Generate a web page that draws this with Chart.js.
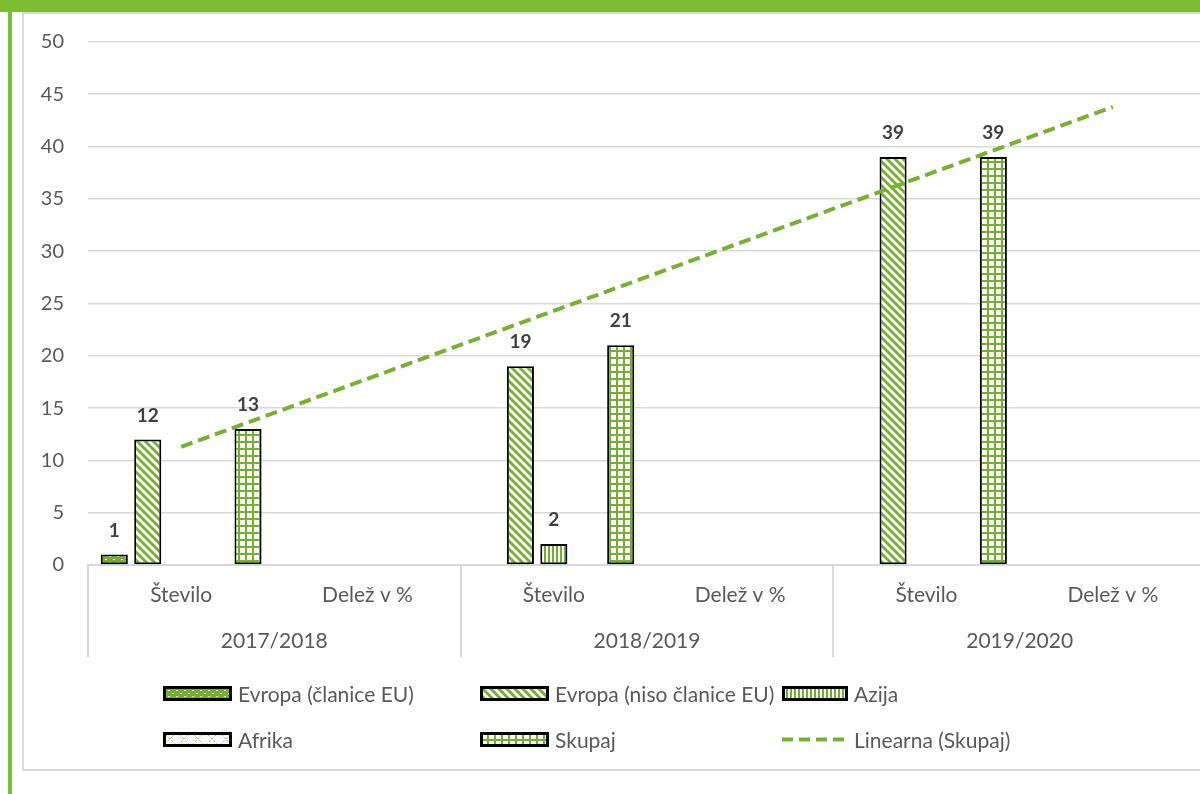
<!DOCTYPE html>
<html>
<head>
<meta charset="utf-8">
<script src="https://cdn.jsdelivr.net/npm/chart.js@4.4.1/dist/chart.umd.min.js"></script>
<style>
  html,body{margin:0;padding:0;width:1200px;height:794px;overflow:hidden;background:#fff;font-family:Lato,"Open Sans",sans-serif;}
  #topbar{position:absolute;left:0;top:0;width:1200px;height:12px;background:#7CBD31;}
  #leftbar{position:absolute;left:8px;top:12px;width:4px;height:782px;background:#7CBD31;}
  #frame{position:absolute;left:22px;top:12px;width:1220px;height:759px;border:2px solid #d9d9d9;box-sizing:border-box;}
  #wrap{position:absolute;left:0;top:0;width:1230px;height:794px;}
  #legend{position:absolute;left:0;top:0;width:1200px;height:794px;pointer-events:none;}
  .li{position:absolute;height:24px;display:flex;align-items:center;color:#595959;font-size:21px;white-space:nowrap;}
  .li canvas{margin-right:6px;}
</style>
</head>
<body>
<div id="topbar"></div>
<div id="leftbar"></div>
<div id="frame"></div>
<div id="wrap"><canvas id="c" width="1230" height="794"></canvas></div>
<div id="legend"></div>
<script>
// ---- data ----
const categories = ["Število","Delež v %","Število","Delež v %","Število","Delež v %"];
const years = ["2017/2018","2018/2019","2019/2020"];
const evropaEU = [1, null, null, null, null, null];
const evropaNiso = [12, null, 19, null, 39, null];
const azija = [null, null, 2, null, null, null];
const afrika = [null, null, null, null, null, null];
const skupaj = [13, null, 21, null, 39, null];
const trendSkupaj = [11.3, null, null, null, null, 43.8];
const seriesNames = ["Evropa (članice EU)","Evropa (niso članice EU)","Azija","Afrika","Skupaj","Linearna (Skupaj)"];

const G = '#73B02D';
const TXT = '#595959';
const FONT = 'Lato, "Open Sans", sans-serif';

function mk(w,h,draw){const c=document.createElement('canvas');c.width=w;c.height=h;const g=c.getContext('2d');draw(g);return c;}
const tiles = {
  dots: mk(8,6,g=>{g.fillStyle=G;g.fillRect(0,0,8,6);g.fillStyle='#fff';g.fillRect(1,1,2,1);g.fillRect(5,4,2,1);}),
  diag: mk(8,8,g=>{g.fillStyle='#fff';g.fillRect(0,0,8,8);g.strokeStyle=G;g.lineWidth=2.8;g.beginPath();
        for(const o of [-8,0,8]){g.moveTo(o-1,-1);g.lineTo(o+9,9);} g.stroke();}),
  vert: mk(4,4,g=>{g.fillStyle='#fff';g.fillRect(0,0,4,4);g.fillStyle=G;g.fillRect(0,0,2,4);}),
  cross: mk(14,14,g=>{g.fillStyle='#fff';g.fillRect(0,0,14,14);g.strokeStyle='#8CC455';g.lineWidth=1;g.setLineDash([2,2]);
        g.beginPath();g.moveTo(0,0);g.lineTo(14,14);g.moveTo(14,0);g.lineTo(0,14);g.stroke();}),
  grid: mk(7,7,g=>{g.fillStyle='#fff';g.fillRect(0,0,7,7);g.fillStyle=G;g.fillRect(0,0,2,7);g.fillRect(0,0,7,2);})
};
const tileOrder = ['dots','diag','vert','cross','grid'];

const canvas = document.getElementById('c');
const ctx = canvas.getContext('2d');
const pat = k => ctx.createPattern(tiles[k],'repeat');

const barCommon = {borderColor:'#000', borderWidth:2, borderSkipped:false, categoryPercentage:0.897, barPercentage:0.81};
const barData = [evropaEU, evropaNiso, azija, afrika, skupaj];

const datasets = barData.map((d,i)=>Object.assign({type:'bar', label:seriesNames[i], data:d, backgroundColor:pat(tileOrder[i]), order:2}, barCommon));
datasets.push({type:'line', label:seriesNames[5], data:trendSkupaj, spanGaps:true, borderColor:'#76B12F', borderWidth:4,
  borderDash:[12,6], pointRadius:0, fill:false, order:0, tension:0});

const labelPlugin = {
  id:'valueLabels',
  afterDatasetsDraw(chart){
    const c = chart.ctx;
    c.save();
    c.font = 'bold 19px ' + FONT;
    c.fillStyle = '#404040';
    c.textAlign = 'center';
    c.textBaseline = 'middle';
    chart.data.datasets.forEach((ds,di)=>{
      if(ds.type!=='bar') return;
      const meta = chart.getDatasetMeta(di);
      meta.data.forEach((el,j)=>{
        const v = ds.data[j];
        if(v===null||v===undefined) return;
        c.fillText(String(v), el.x, el.y - 24);
      });
    });
    c.restore();
  }
};

const groupAxisPlugin = {
  id:'groupAxis',
  afterDraw(chart){
    const c = chart.ctx, a = chart.chartArea;
    const catW = (a.right - a.left)/categories.length;
    c.save();
    c.strokeStyle = '#d9d9d9';
    c.lineWidth = 2;
    for(let k=0;k<=years.length;k++){
      const px = Math.round(a.left + k*2*catW);
      c.beginPath(); c.moveTo(px, a.bottom); c.lineTo(px, a.bottom+92); c.stroke();
    }
    c.font = '21px ' + FONT;
    c.fillStyle = TXT;
    c.textAlign = 'center';
    c.textBaseline = 'middle';
    years.forEach((y,k)=>{ c.fillText(y, a.left + (k*2+1)*catW, a.bottom + 76); });
    c.restore();
  }
};

new Chart(canvas, {
  data:{labels:categories, datasets},
  options:{
    responsive:false,
    animation:false,
    layout:{padding:{top:42, right:24, left:0, bottom:0}},
    plugins:{legend:{display:false}, tooltip:{enabled:false}},
    scales:{
      x:{
        grid:{display:false, drawTicks:false},
        border:{display:true, color:'#d9d9d9', width:2},
        ticks:{color:TXT, font:{family:FONT, size:21}, padding:18, maxRotation:0, autoSkip:false},
        afterFit(s){ s.height = 229; }
      },
      y:{
        min:0, max:50,
        ticks:{stepSize:5, color:TXT, font:{family:FONT, size:20}, padding:24},
        grid:{color:'#d9d9d9', lineWidth:1.6, drawTicks:false},
        border:{display:false},
        afterFit(s){ s.width = 88; }
      }
    }
  },
  plugins:[labelPlugin, groupAxisPlugin]
});

// ---- legend (HTML) ----
const legend = document.getElementById('legend');
const cols = [163, 480, 782];
const rows = [693, 739];
seriesNames.forEach((name,i)=>{
  const col = i%3, row = Math.floor(i/3);
  const item = document.createElement('div');
  item.className = 'li';
  item.style.left = cols[col] + 'px';
  item.style.top = (rows[row]-12) + 'px';
  const sw = document.createElement('canvas');
  const sww = col===2 ? 66 : 69;
  sw.width = sww; sw.height = 15;
  const g = sw.getContext('2d');
  if(i<5){
    g.fillStyle = g.createPattern(tiles[tileOrder[i]],'repeat');
    g.fillRect(0,0,sww,15);
    g.strokeStyle = '#000'; g.lineWidth = 3;
    g.strokeRect(1.5,1.5,sww-3,12);
  } else {
    g.strokeStyle = '#76B12F'; g.lineWidth = 4; g.setLineDash([11,6]);
    g.beginPath(); g.moveTo(0,7.5); g.lineTo(sww,7.5); g.stroke();
  }
  item.appendChild(sw);
  const t = document.createElement('span');
  t.textContent = name;
  item.appendChild(t);
  legend.appendChild(item);
});
</script>
</body>
</html>
